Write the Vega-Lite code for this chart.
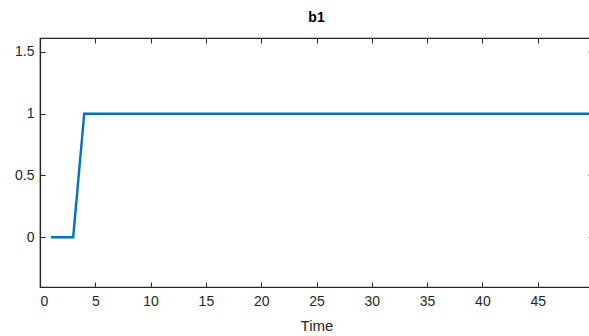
{
  "$schema": "https://vega.github.io/schema/vega-lite/v6.json",
  "autosize": "none",
  "width": 553,
  "height": 249,
  "padding": {"left": 40, "top": 38, "right": 0, "bottom": 49},
  "background": "white",
  "title": {"text": "b1", "font": "Liberation Sans", "fontSize": 14, "fontWeight": "bold", "color": "#000000", "offset": 13, "anchor": "middle"},
  "config": {
    "view": {"stroke": "#262626", "strokeWidth": 1.2},
    "axis": {"labelFont": "Liberation Sans", "labelFontSize": 14, "labelColor": "#262626", "titleFont": "Liberation Sans", "titleFontSize": 15, "titleFontWeight": "normal", "titleColor": "#262626", "domainColor": "#262626", "domainWidth": 1.2, "tickColor": "#262626", "grid": false}
  },
  "data": {"values": [
    {"t": 1, "v": 0}, {"t": 2, "v": 0}, {"t": 3, "v": 0}, {"t": 4, "v": 1}, {"t": 5, "v": 1},
    {"t": 10, "v": 1}, {"t": 20, "v": 1}, {"t": 30, "v": 1}, {"t": 40, "v": 1}, {"t": 50, "v": 1}
  ]},
  "layer": [
    {
      "mark": {"type": "line", "color": "#0072BD", "strokeWidth": 2.4},
      "encoding": {
        "x": {"field": "t", "type": "quantitative", "scale": {"domain": [0, 50], "nice": false}, "axis": {"title": "Time", "values": [0,5,10,15,20,25,30,35,40,45], "format": "~g", "tickSize": -5, "labelPadding": 12, "titlePadding": 10}},
        "y": {"field": "v", "type": "quantitative", "scale": {"domain": [-0.403, 1.613], "nice": false, "zero": false}, "axis": {"title": null, "values": [0, 0.5, 1, 1.5], "format": "~g", "tickSize": -5, "labelPadding": 11}}
      }
    },
    {
      "mark": {"type": "line", "opacity": 0},
      "encoding": {
        "x": {"field": "t", "type": "quantitative", "scale": {"domain": [0, 50], "nice": false}, "axis": {"orient": "top", "title": null, "labels": false, "values": [0,5,10,15,20,25,30,35,40,45], "tickSize": -5}},
        "y": {"field": "v", "type": "quantitative", "scale": {"domain": [-0.403, 1.613], "nice": false, "zero": false}, "axis": {"orient": "right", "title": null, "labels": false, "values": [0, 0.5, 1, 1.5], "tickSize": -5}}
      }
    }
  ],
  "resolve": {"axis": {"x": "independent", "y": "independent"}}
}
